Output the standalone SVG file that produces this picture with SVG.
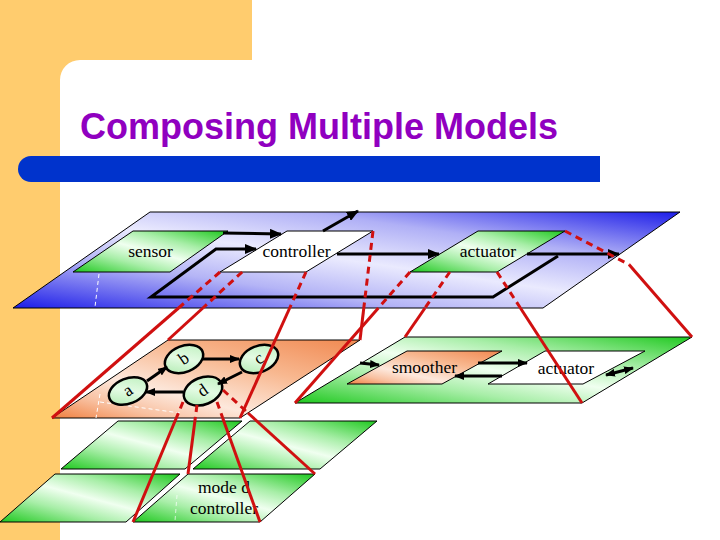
<svg xmlns="http://www.w3.org/2000/svg" width="720" height="540" viewBox="0 0 720 540">
<defs>
<linearGradient id="gBlue" x1="0" y1="1" x2="1" y2="0">
<stop offset="0" stop-color="#1c1ce8"/><stop offset="0.3" stop-color="#b4b4f6"/><stop offset="0.5" stop-color="#eaeafe"/><stop offset="0.72" stop-color="#b0b0f6"/><stop offset="1" stop-color="#1c1ce8"/>
</linearGradient>
<linearGradient id="gGreen" x1="0" y1="1" x2="1" y2="0">
<stop offset="0" stop-color="#1ec81e"/><stop offset="0.3" stop-color="#a8eea8"/><stop offset="0.5" stop-color="#f0fff0"/><stop offset="0.7" stop-color="#a8eea8"/><stop offset="1" stop-color="#1ec81e"/>
</linearGradient>
<linearGradient id="gOrange" x1="1" y1="0" x2="0" y2="1">
<stop offset="0" stop-color="#f08850"/><stop offset="0.35" stop-color="#f8b890"/><stop offset="0.65" stop-color="#fde8dc"/><stop offset="0.82" stop-color="#f8c0a0"/><stop offset="1" stop-color="#f08040"/>
</linearGradient>
<linearGradient id="gEll" x1="0" y1="1" x2="1" y2="0">
<stop offset="0" stop-color="#a8e8a8"/><stop offset="0.5" stop-color="#e4fbe4"/><stop offset="1" stop-color="#b8eeb8"/>
</linearGradient>
<marker id="ah" markerUnits="userSpaceOnUse" markerWidth="12" markerHeight="10" refX="11" refY="5" orient="auto"><path d="M0,0 L12,5 L0,10 z" fill="#000"/></marker>
<marker id="ahs" markerUnits="userSpaceOnUse" markerWidth="10" markerHeight="8" refX="9" refY="4" orient="auto-start-reverse"><path d="M0,0 L10,4 L0,8 z" fill="#000"/></marker>
</defs>
<style>
.plane{stroke:#000;stroke-width:1}
.lbl{font-family:"Liberation Serif","Times New Roman",serif;font-size:17.5px;fill:#000;text-anchor:middle}
.arr{stroke:#000;stroke-width:3;fill:none;marker-end:url(#ah)}
.arrs{stroke:#000;stroke-width:3;fill:none;marker-end:url(#ahs)}
.red{stroke:#d01010;stroke-width:3;fill:none}
.redd{stroke:#d01010;stroke-width:3;fill:none;stroke-dasharray:7 5}
.wd{stroke:#fff;stroke-width:1;stroke-dasharray:4 3;fill:none}
.ell{fill:url(#gEll);stroke:#000;stroke-width:2.5}
</style>

<rect x="0" y="0" width="720" height="540" fill="#fff"/>
<path d="M0,0 H252 V60 H80 A20,20 0 0 0 60,80 V540 H0 Z" fill="#ffcc6e"/>
<path d="M31,156 H600 V182 H31 A13,13 0 0 1 31,156 Z" fill="#0033cc"/>
<text x="80" y="139" font-family="'Liberation Sans',Arial,sans-serif" font-size="36" font-weight="bold" fill="#9000c0">Composing Multiple Models</text>

<!-- lower grid planes -->
<g id="plane-lower-ul"><polygon class="plane" points="118,421 242,421 185,469 61,469" fill="url(#gGreen)"/></g>
<g id="plane-lower-ur"><polygon class="plane" points="250,421 377,421 320,469 193,469" fill="url(#gGreen)"/></g>
<g id="plane-lower-ll"><polygon class="plane" points="55,474 180,474 126,522 0,522" fill="url(#gGreen)"/></g>
<g id="plane-mode-d">
<polygon class="plane" points="188,474 315,474 260,522 133,522" fill="url(#gGreen)"/>
<path class="wd" d="M177,495 L175,521" opacity="0.7"/>
<text class="lbl" x="224" y="493">mode d</text>
<text class="lbl" x="224" y="514">controller</text>
</g>

<!-- orange plane -->
<g id="plane-orange">
<polygon class="plane" points="168,340 360,340 240,418 52,418" fill="url(#gOrange)"/>
<path class="wd" d="M100,394 L96,418 M100,402 L180,413"/>
</g>

<!-- right green plane -->
<g id="plane-green">
<polygon class="plane" points="405,337 692,337 582,403 295,403" fill="url(#gGreen)"/>
</g>
<g id="smoother">
<polygon class="plane" points="407,351 502,351 442,384 347,384" fill="url(#gOrange)"/>
<text class="lbl" x="424.5" y="373">smoother</text>
</g>
<g id="actuator2">
<polygon class="plane" points="545,351 645,351 583,384 488,384" fill="#fff"/>
<text class="lbl" x="566" y="374">actuator</text>
</g>

<!-- top plane -->
<g id="plane-top">
<polygon class="plane" points="150,212 680,212 543,308 13,308" fill="url(#gBlue)"/>
<path class="wd" d="M99,274 L95,307"/>
</g>
<g id="sensor">
<polygon class="plane" points="133,231 228,231 170,272 73,272" fill="url(#gGreen)"/>
<text class="lbl" x="150.5" y="257">sensor</text>
</g>
<g id="controller">
<polygon class="plane" points="287,231 373,231 306,272 220,272" fill="#fff"/>
<text class="lbl" x="296.5" y="257">controller</text>
</g>
<g id="actuator">
<polygon class="plane" points="478,231 565,231 497,272 410,272" fill="url(#gGreen)"/>
<text class="lbl" x="488" y="257">actuator</text>
</g>

<!-- state machine nodes -->
<g id="node-a"><ellipse class="ell" cx="128" cy="391" rx="20" ry="12.5" transform="rotate(-22 128 391)"/><text class="lbl" font-size="17" transform="translate(128,391) rotate(-35)" x="0" y="5">a</text></g>
<g id="node-b"><ellipse class="ell" cx="184" cy="359" rx="20" ry="13" transform="rotate(-22 184 359)"/><text class="lbl" font-size="17" transform="translate(184,359) rotate(-35)" x="0" y="5">b</text></g>
<g id="node-c"><ellipse class="ell" cx="259" cy="359" rx="20" ry="13" transform="rotate(-22 259 359)"/><text class="lbl" font-size="17" transform="translate(259,359) rotate(-35)" x="0" y="5">c</text></g>
<g id="node-d"><ellipse class="ell" cx="203" cy="391" rx="20" ry="13.5" transform="rotate(-22 203 391)"/><text class="lbl" font-size="17" transform="translate(203,391) rotate(-35)" x="0" y="5">d</text></g>

<g id="connectors">
<!-- top plane arrows -->
<path class="arr" d="M223,233 L281,234"/>
<path class="arr" d="M558,256 L493,297 L151,297 L216,249 L256,249"/>
<path class="arr" d="M337,254 L439,254"/>
<path class="arr" d="M527,254 L619,254"/>
<path class="arr" d="M323,231 L358,211"/>
<!-- state machine arrows -->
<path class="arrs" d="M147,381 L167,367"/>
<path class="arrs" d="M203,359 L239,359"/>
<path class="arrs" d="M242,372 L218,384"/>
<path class="arrs" d="M183,392 L146,392"/>
<!-- green plane arrows -->
<path class="arrs" d="M360,363 L379,365"/>
<path class="arrs" d="M478,363 L527,363"/>
<path class="arrs" d="M502,376 L455,376"/>
<path class="arrs" d="M606,375 L633,368" style="marker-start:url(#ahs)"/>

<!-- red projection lines: controller -> orange plane -->
<path class="redd" d="M220,272 L178.6,308"/><path class="red" d="M178.6,308 L52,418"/>
<path class="redd" d="M242.2,272 L202.9,308"/><path class="red" d="M202.9,308 L168,340"/>
<path class="redd" d="M306,272 L289.7,308"/><path class="red" d="M289.7,308 L240,418"/>
<path class="redd" d="M373,231 L363.8,308"/><path class="red" d="M363.8,308 L360,340"/>
<!-- actuator -> green plane -->
<path class="redd" d="M410,272 L378.4,308"/><path class="red" d="M378.4,308 L295,403"/>
<path class="redd" d="M449.8,272 L425,308"/><path class="red" d="M425,308 L405,337"/>
<path class="redd" d="M497,272 L520.4,308"/><path class="red" d="M520.4,308 L582,403"/>
<path class="redd" d="M565,231 L629,264.5"/><path class="red" d="M629,264.5 L692,337"/>
<!-- d -> mode d plane -->
<path class="redd" d="M183,402 L176.3,418"/><path class="red" d="M176.3,418 L133,522"/>
<path class="redd" d="M197,405 L195.3,418"/><path class="red" d="M195.3,418 L188,474"/>
<path class="redd" d="M217,402 L222.7,418"/><path class="red" d="M222.7,418 L260,522"/>
<path class="redd" d="M223,390 L248,413"/><path class="red" d="M248,413 L315,474"/>
</g>
</svg>
